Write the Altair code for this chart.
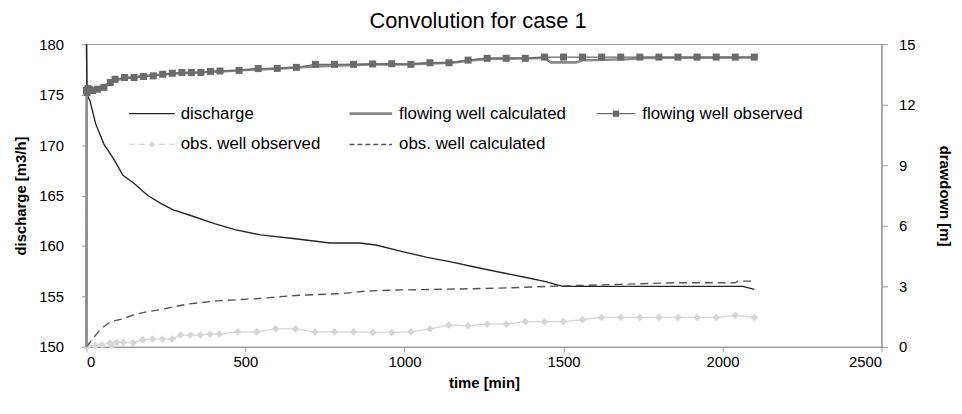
import altair as alt
import pandas as pd

# ---------------- data ----------------
discharge_time = [0, 2, 11, 29, 55, 86, 115, 150, 193, 235, 271, 330, 405, 470, 548, 663,
                  766, 859, 910, 1000, 1068, 1150, 1224, 1300, 1379, 1440, 1498, 1600,
                  1800, 2000, 2064, 2100]
discharge_val = [180.0, 175.0, 174.4, 172.1, 170.1, 168.6, 167.0, 166.2, 165.0, 164.2, 163.6,
                 163.0, 162.2, 161.6, 161.1, 160.7, 160.3, 160.3, 160.1, 159.4, 158.9, 158.4,
                 157.9, 157.4, 156.9, 156.5, 156.0, 156.0, 156.0, 156.0, 156.0, 155.7]

fw_calc_time = [0, 0.5, 2, 5, 10, 20, 40, 60, 80, 100, 130, 170, 220, 280, 350, 420, 500,
                600, 700, 800, 900, 1000, 1080, 1150, 1200, 1260, 1400, 1440, 1460, 1540,
                1560, 1700, 1750, 2100]
fw_calc_val = [0.0, 12.3, 12.55, 12.65, 12.7, 12.75, 12.85, 12.97, 13.12, 13.25, 13.33, 13.4,
               13.47, 13.55, 13.6, 13.65, 13.72, 13.79, 13.88, 13.95, 14.0, 14.0, 14.05,
               14.08, 14.18, 14.27, 14.3, 14.33, 14.1, 14.1, 14.2, 14.25, 14.32, 14.34]

fw_obs_time = [0, 2, 5, 10, 20, 35, 55, 75, 90, 120, 150, 180, 210, 240, 270, 300, 330, 360,
               390, 420, 480, 540, 600, 660, 720, 780, 840, 900, 960, 1020, 1080, 1140, 1200,
               1260, 1320, 1380, 1440, 1500, 1560, 1620, 1680, 1740, 1800, 1860, 1920, 1980,
               2040, 2100]
fw_obs_val = [12.7, 12.6, 12.8, 12.75, 12.7, 12.77, 12.86, 13.1, 13.26, 13.35, 13.35, 13.4,
              13.43, 13.51, 13.56, 13.6, 13.6, 13.6, 13.65, 13.67, 13.7, 13.79, 13.8, 13.85,
              14.0, 14.0, 14.0, 14.02, 14.03, 14.0, 14.08, 14.08, 14.21, 14.3, 14.3, 14.3,
              14.36, 14.36, 14.36, 14.36, 14.36, 14.36, 14.36, 14.36, 14.36, 14.36, 14.36, 14.36]

ow_obs_time = [0, 7, 28, 49, 74, 80, 95, 116, 147, 177, 208, 239, 270, 296, 327, 358, 389,
               418, 476, 536, 595, 657, 719, 780, 840, 900, 960, 1020, 1080, 1140, 1200, 1260,
               1320, 1380, 1440, 1500, 1560, 1620, 1680, 1740, 1800, 1860, 1920, 1980, 2040, 2100]
ow_obs_val = [0.0, 0.06, 0.06, 0.1, 0.2, 0.06, 0.23, 0.23, 0.2, 0.36, 0.39, 0.39, 0.39, 0.59,
              0.59, 0.59, 0.64, 0.64, 0.75, 0.75, 0.89, 0.89, 0.75, 0.75, 0.75, 0.72, 0.72, 0.75,
              0.89, 1.08, 1.05, 1.13, 1.13, 1.25, 1.25, 1.25, 1.35, 1.46, 1.46, 1.46, 1.46,
              1.46, 1.46, 1.46, 1.57, 1.46]

ow_calc_time = [0, 5, 19, 45, 75, 112, 148, 189, 230, 263, 317, 409, 533, 667, 801, 883, 976,
                1090, 1200, 1337, 1486, 1677, 1853, 2039, 2048, 2100]
ow_calc_val = [0.0, 0.1, 0.39, 0.89, 1.25, 1.38, 1.59, 1.74, 1.84, 1.95, 2.12, 2.28, 2.39,
               2.56, 2.64, 2.77, 2.82, 2.85, 2.88, 2.93, 3.02, 3.1, 3.18, 3.18, 3.26, 3.26]

x_ticks = [0, 500, 1000, 1500, 2000, 2500]
left_ticks = [150, 155, 160, 165, 170, 175, 180]
right_ticks = [0, 3, 6, 9, 12, 15]

legend_labels = ["discharge", "flowing well calculated", "flowing well observed",
                 "obs. well observed", "obs. well calculated"]

# ---------------- styling ----------------
FONT = "Liberation Sans"
W, H = 801, 305
C_DIS = "#262626"
C_FWC = "#8a8a8a"
C_FWO = "#6b6b6b"
C_OWO = "#d6d6d6"
C_OWC = "#555555"

x_enc = alt.X("t:Q", scale=alt.Scale(domain=[0, 2500], nice=False, zero=False),
              axis=alt.Axis(values=x_ticks, title="time [min]", format="d",
                            tickSize=5, labelPadding=3, titlePadding=6))
left_scale = alt.Scale(domain=[150, 180], nice=False, zero=False)
right_scale = alt.Scale(domain=[0, 15], nice=False, zero=False)
left_axis = alt.Axis(values=left_ticks, title="discharge [m3/h]", orient="left",
                     tickSize=5, labelPadding=18, titlePadding=10)
right_axis = alt.Axis(values=right_ticks, title="drawdown [m]", orient="right",
                      tickSize=6, labelPadding=11, titlePadding=22)


def df(t, v):
    return pd.DataFrame({"t": t, "v": v})


dis = alt.Chart(df(discharge_time, discharge_val)).mark_line(
    color=C_DIS, strokeWidth=1.4).encode(
    x=x_enc, y=alt.Y("v:Q", scale=left_scale, axis=left_axis))

yr = alt.Y("v:Q", scale=right_scale, axis=right_axis)

owo_line = alt.Chart(df(ow_obs_time, ow_obs_val)).mark_line(
    color=C_OWO, strokeWidth=1.3).encode(x=x_enc, y=yr)
owo_pts = alt.Chart(df(ow_obs_time, ow_obs_val)).mark_point(
    shape="diamond", filled=True, color=C_OWO, size=60, opacity=1).encode(x=x_enc, y=yr)
owc_line = alt.Chart(df(ow_calc_time, ow_calc_val)).mark_line(
    color=C_OWC, strokeWidth=1.4, strokeDash=[8, 5]).encode(x=x_enc, y=yr)
fwc_line = alt.Chart(df(fw_calc_time, fw_calc_val)).mark_line(
    color=C_FWC, strokeWidth=2.6).encode(x=x_enc, y=yr)
fwo_line = alt.Chart(df(fw_obs_time, fw_obs_val)).mark_line(
    color=C_FWO, strokeWidth=1.4).encode(x=x_enc, y=yr)
fwo_pts = alt.Chart(df(fw_obs_time, fw_obs_val)).mark_point(
    shape="square", filled=True, color=C_FWO, size=50, opacity=1).encode(x=x_enc, y=yr)

right = alt.layer(owo_line, owo_pts, owc_line, fwc_line, fwo_line, fwo_pts)

# ---------------- legend (inside plot, manual) ----------------
leg_layout = [  # (sample x0, sample x1, text x, y) in plot pixels
    (43, 89, 95, 70),
    (265, 308, 315, 70),
    (514, 553, 560, 70),
    (43, 89, 95, 101),
    (265, 308, 315, 101),
]
leg_style = [
    dict(color=C_DIS, strokeWidth=1.4),
    dict(color=C_FWC, strokeWidth=2.6),
    dict(color=C_FWO, strokeWidth=1.4),
    dict(color=C_OWO, strokeWidth=1.3, strokeDash=[6, 4]),
    dict(color=C_OWC, strokeWidth=1.4, strokeDash=[5, 3]),
]
leg_marker = [None, None, ("square", C_FWO, 40), ("diamond", C_OWO, 40), None]

legend_layers = []
for lab, (x0, x1, xt, yy), sty, mk in zip(legend_labels, leg_layout, leg_style, leg_marker):
    d = pd.DataFrame({"label": [lab]})
    legend_layers.append(alt.Chart(d).mark_rule(**sty).encode(
        x=alt.value(x0), x2=alt.value(x1), y=alt.value(yy)))
    if mk:
        legend_layers.append(alt.Chart(d).mark_point(
            shape=mk[0], filled=True, color=mk[1], size=mk[2], opacity=1).encode(
            x=alt.value((x0 + x1) / 2), y=alt.value(yy)))
    legend_layers.append(alt.Chart(d).mark_text(
        align="left", baseline="middle", font=FONT, fontSize=17, color="black").encode(
        x=alt.value(xt), y=alt.value(yy), text="label:N"))

chart = alt.layer(dis, right, *legend_layers).resolve_scale(y="independent").properties(
    width=W, height=H,
    title=alt.TitleParams("Convolution for case 1", font=FONT, fontSize=22,
                          fontWeight="normal", anchor="middle", frame="group",
                          dx=-6, offset=4, color="black"),
    autosize=alt.AutoSizeParams(type="none"),
    padding={"left": 79, "top": 35, "right": 73, "bottom": 50},
).configure_view(stroke="#9a9a9a", strokeWidth=1.2).configure_axis(
    grid=False, domainColor="#9a9a9a", tickColor="#9a9a9a", domainWidth=1.2,
    labelFont=FONT, labelFontSize=15, labelColor="black",
    titleFont=FONT, titleFontSize=15, titleFontWeight="bold", titleColor="black",
)

chart.save("out.html", embed_options={"renderer": "svg", "actions": False})
